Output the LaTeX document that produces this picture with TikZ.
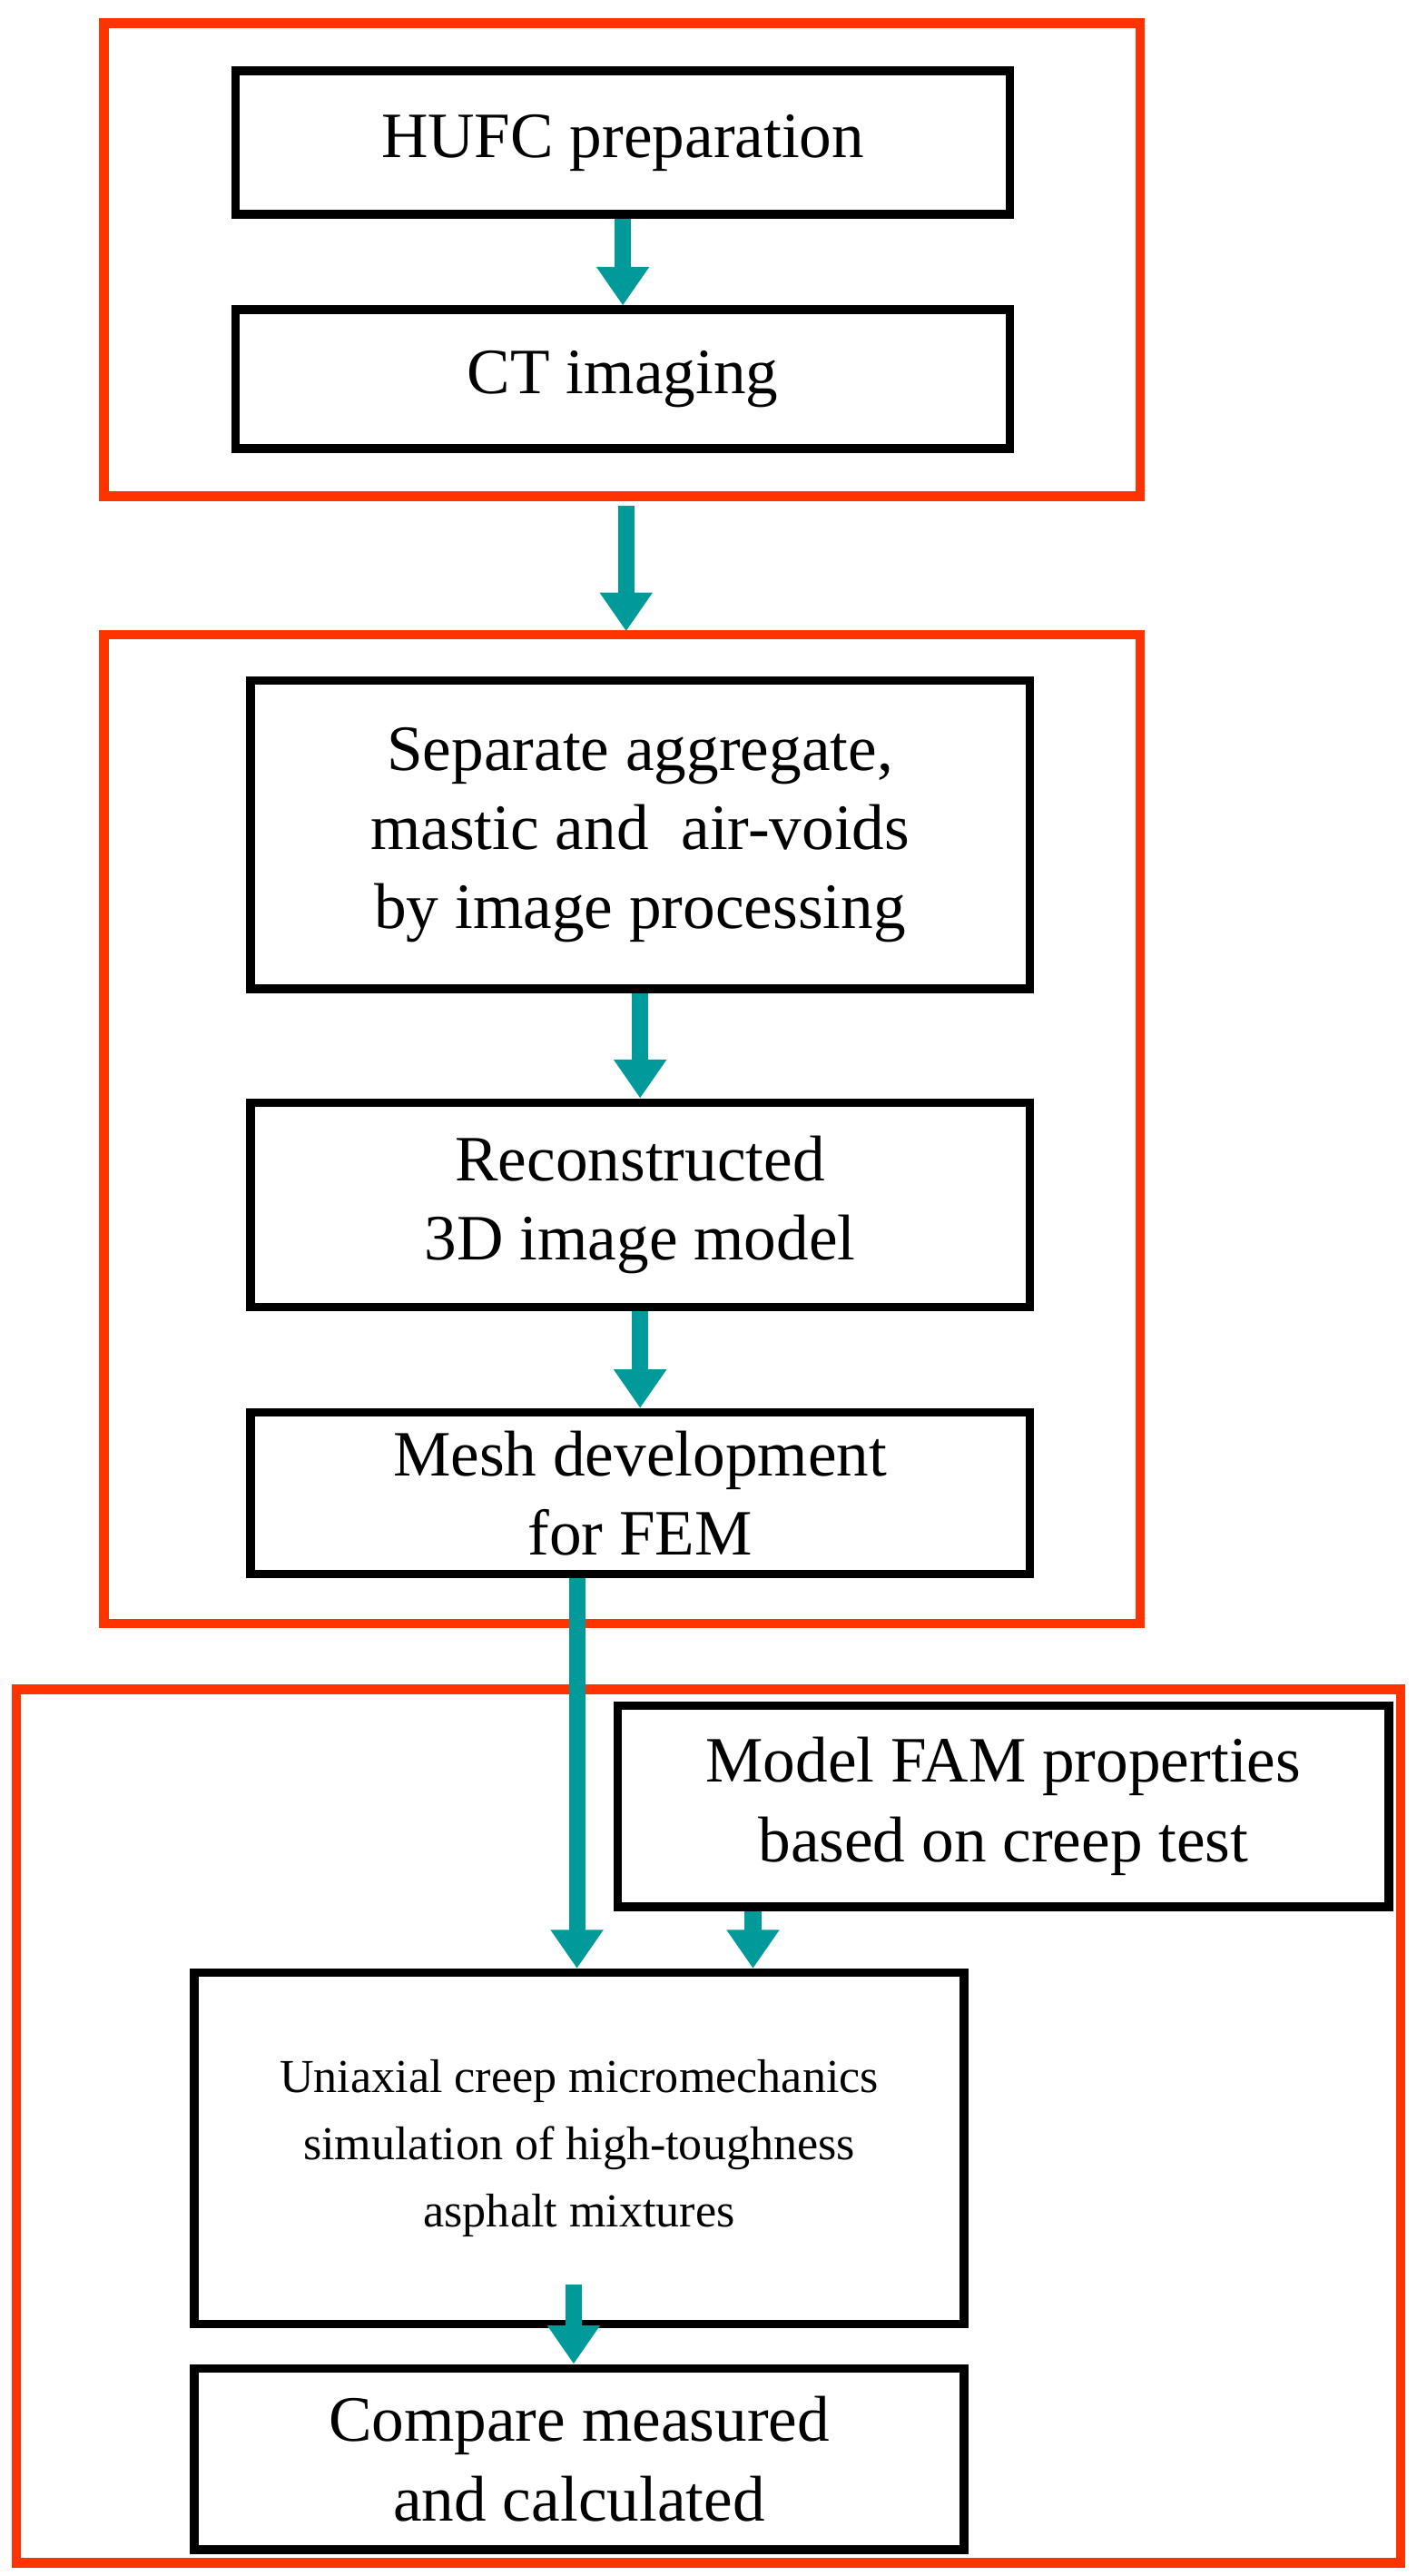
\documentclass[tikz,border=0pt]{standalone}
\usepackage{fontspec}
\setmainfont{Liberation Serif}
\usetikzlibrary{arrows.meta}
\definecolor{rbox}{HTML}{FF3300}
\definecolor{tealc}{HTML}{009A9A}
\begin{document}
\begin{tikzpicture}[x=0.03cm,y=-0.03cm,
 box/.style={draw=black,line width=4.5pt,align=center,inner sep=0pt,
   font=\fontsize{33.5}{41}\selectfont},
 grp/.style={draw=rbox,line width=5pt},
 arr/.style={draw=tealc,line width=8.5pt,-{Triangle[width=26pt,length=20pt]}}]
\useasboundingbox (0,0) rectangle (860,1563);
\draw[grp] (63,14) rectangle (692,301);
\draw[grp] (63,385) rectangle (692,985);
\draw[grp] (10,1025) rectangle (850,1555);
\node[box,minimum width=14.1cm,minimum height=2.61cm] (hufc) at (378,86.5) {HUFC preparation};
\node[box,minimum width=14.1cm,minimum height=2.52cm] (ct) at (378,230) {CT imaging};
\node[box,minimum width=14.19cm,minimum height=5.61cm] (sep) at (388.5,506.5) {Separate aggregate,\\ mastic and\ \ air-voids\\ by image processing};
\node[box,minimum width=14.19cm,minimum height=3.72cm] (rec) at (388.5,731) {Reconstructed\\ 3D image model};
\node[box,minimum width=14.19cm,minimum height=2.94cm] (mesh) at (388.5,906) {Mesh development\\ for FEM};
\node[box,minimum width=14.04cm,minimum height=3.66cm] (fam) at (609,1096) {Model FAM properties\\ based on creep test};
\node[box,minimum width=14.01cm,minimum height=6.39cm,font=\fontsize{24.5}{35}\selectfont] (uni) at (351.5,1303.5) {Uniaxial creep micromechanics\\ simulation of high-toughness\\ asphalt mixtures};
\node[box,minimum width=14.01cm,minimum height=3.3cm] (cmp) at (351.5,1492) {Compare measured\\ and calculated};
\coordinate (a1) at (380,307);
\coordinate (a2) at (380,383);
\draw[arr] (hufc.south) -- (ct.north);
\draw[arr] (a1) -- (a2);
\draw[arr] (sep.south) -- (rec.north);
\draw[arr] (rec.south) -- (mesh.north);
\draw[arr] ([xshift=-1.15cm]mesh.south) -- ([xshift=-1.15cm]mesh.south |- uni.north);
\draw[arr] (fam.south -| 457,0) -- (uni.north -| 457,0);
\draw[arr] ([xshift=-0.1cm,yshift=0.8cm]uni.south) -- ([xshift=-0.1cm]cmp.north);
\end{tikzpicture}
\end{document}
